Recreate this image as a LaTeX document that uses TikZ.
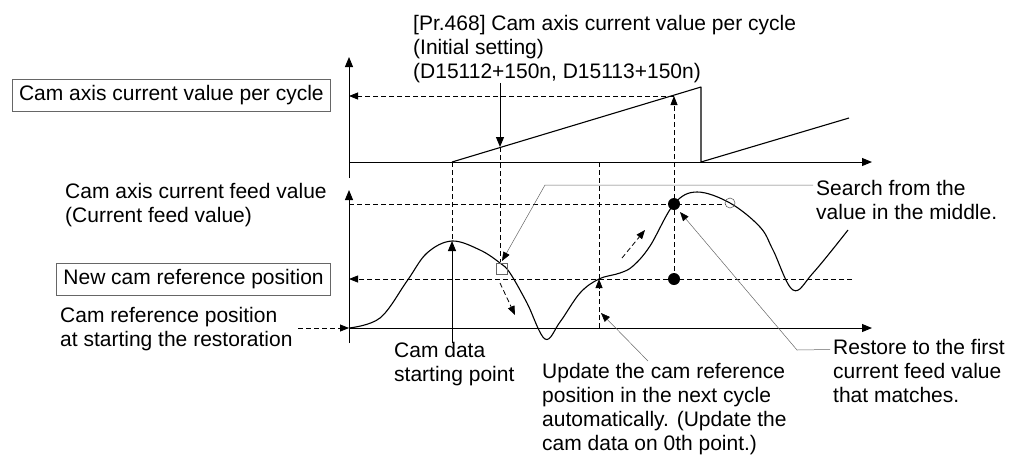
\documentclass[tikz,border=0pt]{standalone}
\usepackage{fontspec}
\setmainfont{Liberation Sans}
\usetikzlibrary{arrows.meta, positioning}
\tikzset{
	axis/.style={-{Triangle[length=10pt, width=8pt]}, line width=1pt},
	guide/.style={dash pattern=on 5pt off 3pt, line width=0.8pt},
	guidearrow/.style={guide, -{Triangle[length=9pt, width=7pt]}},
	leader/.style={draw=gray!80!black, line width=0.5pt, -{Triangle[length=9pt, width=7pt, color=black]}},
	label/.style={align=left, inner sep=0pt, anchor=west},
	labelbox/.style={draw=gray!80!black, line width=0.6pt, inner xsep=7pt, minimum height=32pt, anchor=east},
	camline/.style={line width=1.1pt, line join=round},
}

\begin{document}
\begin{tikzpicture}[x=1pt, y=-1pt, font=\fontsize{21}{24}\selectfont]
	\useasboundingbox (0,0) rectangle (1011,459);
	% axes
	\coordinate (o1) at (349,162);
	\coordinate (o2) at (349,328);
	\draw[axis] (349,178) -- (349,57);
	\draw[axis] (o1) -- (872,162);
	\draw[axis] (349,343) -- (349,190);
	\draw[axis] (o2) -- (872,328);
	% labels
	\node[labelbox] (cyclebox) at (331,95) {Cam axis current value per cycle};
	\node[labelbox] (newref) at (331,279.5) {New cam reference position};
	\node[label] (feed) at (65,205) {Cam axis current feed value\\(Current feed value)};
	\node[label] (startref) at (60,329.5) {Cam reference position\\at starting the restoration};
	\node[label] (prtext) at (413,49) {[Pr.468] Cam axis current value per cycle\\(Initial setting)\\(D15112+150n, D15113+150n)};
	\node[label] (camdata) at (394,364.5) {Cam data\\starting point};
	\node[label] (update) at (542,409) {Update the cam reference\\position in the next cycle\\automatically. (Update the\\cam data on 0th point.)};
	\node[label] (restore) at (833,370.5) {Restore to the first\\current feed value\\that matches.};
	\node[label] (search) at (816,200) {Search from the\\value in the middle.};
	% points
	\coordinate (r0) at (452,162);
	\coordinate (r1) at (701,87);
	\coordinate (prhit) at (500,147);
	\coordinate (peak) at (452,241);
	\coordinate (cross) at (599,279);
	\coordinate (hit) at (674,204);
	\coordinate (base) at (674,279);
	\coordinate (top) at (674,96);
	\coordinate (sknee) at (545,185);
	\coordinate (pickt) at (502,261);
	\coordinate (rknee) at (797,350);
	\coordinate (hitt) at (680,212);
	\coordinate (ut) at (601,313);
	% guides
	\draw[guide] (r0) -- (peak);
	\draw[guide] (prhit) -- (500,262);
	\draw[guide] (599,162) -- (cross);
	\draw[guidearrow] (599,328) -- (cross);
	\draw[guidearrow] (base) -- (top);
	\draw[guidearrow] (top) -- (349,96);
	\draw[guide] (349,204) -- (726,204);
	\draw[guidearrow] (852,279) -- (349,279);
	\draw[guidearrow] (298,328) -- (o2);
	\draw[guidearrow] (500,283) -- (515,315);
	\draw[guidearrow] (622,258) -- (645,230);
	% cam axis current value per cycle
	\draw[camline] (r0) -- (r1) -- (701,162) -- (849,118);
	% current feed value
	\draw[camline] plot[smooth, tension=0.6] coordinates {(349,328) (380,318) (407,281) (427,253) (452,241) (480,250) (500,263) (510,273) (527,303) (545,339) (560,322) (580,293) (599,279) (620,273) (633,266) (650,246) (674,204) (697,192) (730,203) (760,227) (773,250) (793,290) (813,273) (848,230)};
	\draw[gray!80!black, line width=0.6pt] (730,203) circle (5pt);
	\draw[gray!80!black, line width=0.6pt] (496,263) rectangle (507,274);
	\fill (hit) circle (6pt);
	\fill (base) circle (6pt);
	% arrows and leaders
	\draw[axis] (prtext.south -| prhit) -- (prhit);
	\draw[axis] (camdata.north -| peak) -- (peak);
	\draw[leader] ([xshift=-3pt, yshift=15pt]search.west) -- (sknee) -- (pickt);
	\draw[leader] ([xshift=-3pt, yshift=21pt]restore.west) -- (rknee) -- (hitt);
	\draw[leader] ([xshift=106pt, yshift=2pt]update.north west) -- (ut);
\end{tikzpicture}
\end{document}
